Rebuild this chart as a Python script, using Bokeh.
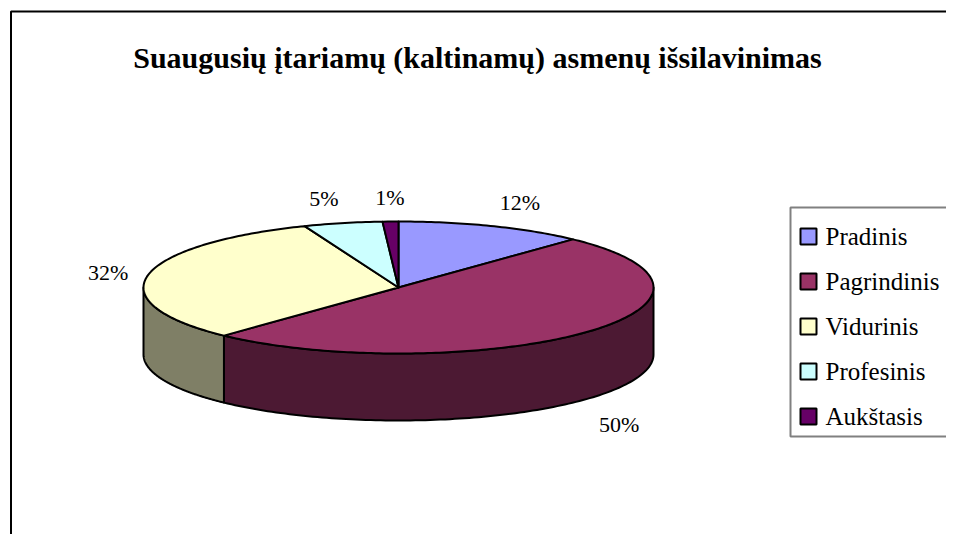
import numpy as np
from bokeh.plotting import figure
from bokeh.models import Range1d, ColumnDataSource
from bokeh.core.properties import value
from bokeh.embed import file_html
from bokeh.resources import INLINE

# ---- data ----
title = "Suaugusių įtariamų (kaltinamų) asmenų išsilavinimas"
categories = ["Pradinis", "Pagrindinis", "Vidurinis", "Profesinis", "Aukštasis"]
shares = [12, 50, 32, 5, 1]
colors = ["#9999FF", "#993366", "#FFFFCC", "#CCFFFF", "#660066"]

# ---- layout ----
W, H = 946, 534
p = figure(width=W, height=H, x_range=Range1d(0, W), y_range=Range1d(H, 0),
           output_backend="svg", toolbar_location=None, min_border=0,
           x_axis_type=None, y_axis_type=None)
p.grid.visible = False
p.outline_line_color = None
p.background_fill_color = "white"
p.border_fill_color = "white"

SERIF = value("Liberation Serif")

# chart area border (extends beyond the window on right/bottom)
p.line([10.5, 10.5, 2000], [2000, 11, 11], line_color="black", line_width=2)

# pie geometry
cx, cy, a, b, depth = 398, 287, 255, 66, 67
vals = np.array(shares, dtype=float)
frac = vals / vals.sum()
ends = np.cumsum(frac) * 2 * np.pi
starts = ends - frac * 2 * np.pi


def ex(t):
    return cx + a * np.sin(t)


def ey(t):
    return cy - b * np.cos(t)


def darken(h, f=0.5):
    h = h.lstrip("#")
    r, g, bb = (int(h[i:i + 2], 16) for i in (0, 2, 4))
    return "#%02x%02x%02x" % (int(r * f), int(g * f), int(bb * f))


# side walls (front half only)
sx, sy, sc = [], [], []
for s0, e0, c in zip(starts, ends, colors):
    s = max(s0, np.pi / 2)
    e = min(e0, 3 * np.pi / 2)
    if e > s:
        t = np.linspace(s, e, 120)
        sx.append(list(ex(t)) + list(ex(t[::-1])))
        sy.append(list(ey(t)) + list(ey(t[::-1]) + depth))
        sc.append(darken(c))
p.patches(xs="xs", ys="ys", fill_color="c", line_color="black", line_width=2,
          line_join="round", source=ColumnDataSource(dict(xs=sx, ys=sy, c=sc)))

# top faces
tx, ty = [], []
for s0, e0 in zip(starts, ends):
    n = max(4, int((e0 - s0) / (2 * np.pi) * 400))
    t = np.linspace(s0, e0, n)
    tx.append([cx] + list(ex(t)))
    ty.append([cy] + list(ey(t)))
p.patches(xs="xs", ys="ys", fill_color="c", line_color="black", line_width=2,
          line_join="round", source=ColumnDataSource(dict(xs=tx, ys=ty, c=colors)))

# percentage labels
mids = (starts + ends) / 2
for v, m in zip(shares, mids):
    sn, cs = np.sin(m), np.cos(m)
    lx = cx + (a + 20) * sn
    ly = cy - (b + 12) * cs + (depth + 4 if cs < 0 else 0)
    align = "left" if sn > 0.1 else ("right" if sn < -0.1 else "center")
    base = "bottom" if cs > 0.3 else ("top" if cs < -0.3 else "middle")
    p.text(x=[lx], y=[ly], text=[f"{v}%"], text_font=SERIF, text_font_size=value("22px"),
           text_align=align, text_baseline=base, text_color="black")

# title
p.text(x=[477], y=[57], text=[title], text_font=SERIF, text_font_size=value("30px"),
       text_font_style="bold", text_align="center", text_baseline="middle", text_color="black")

# legend
p.quad(left=[790], right=[2000], top=[207], bottom=[436], fill_color="white",
       line_color="#808080", line_width=2)
ly = [236 + 45 * i for i in range(len(categories))]
p.rect(x=[808] * len(categories), y=ly, width=16, height=16, fill_color=colors,
       line_color="black", line_width=2)
p.text(x=[825] * len(categories), y=ly, text=categories, text_font=SERIF,
       text_font_size=value("25px"), text_align="left", text_baseline="middle",
       text_color="black")

open("out.html", "w").write(file_html(p, INLINE))
